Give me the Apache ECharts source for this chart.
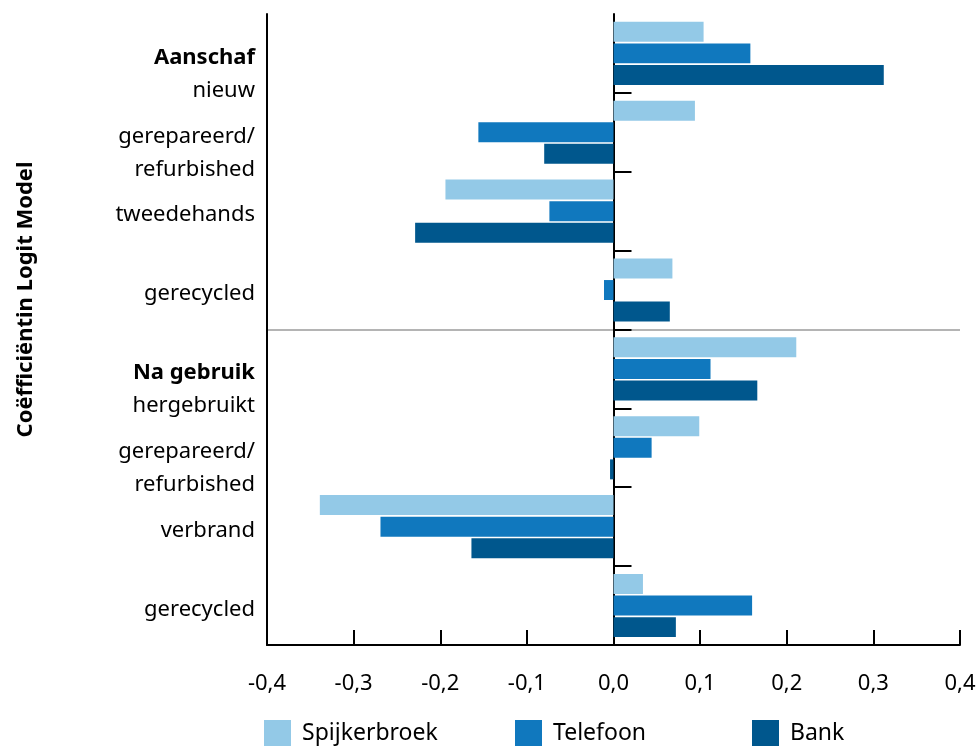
<!DOCTYPE html>
<html><head><meta charset="utf-8">
<script src="https://cdn.jsdelivr.net/npm/echarts@6/dist/echarts.min.js"></script>
<style>html,body{margin:0;padding:0;background:#fff}#c{width:980px;height:751px}</style>
</head><body><div id="c"></div>
<script>
var categoryKeys = ['a_nieuw','a_gerep','a_tweede','a_recyc','n_herg','n_gerep','n_verbr','n_recyc'];
var categoryLabels = [
  '\n{b|Aanschaf}\nnieuw',
  '\ngerepareerd/\nrefurbished',
  'tweedehands',
  'gerecycled',
  '\n{b|Na gebruik}\nhergebruikt',
  '\ngerepareerd/\nrefurbished',
  'verbrand',
  'gerecycled'
];
var seriesNames = ['Spijkerbroek','Telefoon','Bank'];
var spijkerbroek = [0.104, 0.094, -0.194, 0.068, 0.211, 0.099, -0.339, 0.034];
var telefoon     = [0.158, -0.156, -0.074, -0.011, 0.112, 0.044, -0.269, 0.160];
var bank         = [0.312, -0.080, -0.229, 0.065, 0.166, -0.004, -0.164, 0.072];
var xTicks = [-0.4,-0.3,-0.2,-0.1,0,0.1,0.2,0.3,0.4];
var yAxisName = 'Coëfficiëntin Logit Model';
var groupSeparatorBoundary = 4;
var colors = ['#93C9E7','#1078BE','#00578D'];

var FONT = 'Noto Sans';
var separatorColors = [];
for (var k = 0; k <= categoryKeys.length; k++) {
  separatorColors.push(k === groupSeparatorBoundary ? '#B4B4B4' : 'rgba(0,0,0,0)');
}
var chart = echarts.init(document.getElementById('c'));
function legendAt(i, left){
  return {
    data:[seriesNames[i]], left:left, top:720, icon:'rect', itemWidth:27, itemHeight:26, padding:0,
    textStyle:{fontSize:23, color:'#000', fontFamily:FONT, padding:[0,0,0,6]}
  };
}
chart.setOption({
  animation:false,
  textStyle:{fontFamily:FONT},
  color:colors,
  legend:[legendAt(0,264), legendAt(1,515), legendAt(2,752)],
  grid:{left:267, right:20, top:12, bottom:106, containLabel:false},
  xAxis:{
    type:'value', min:xTicks[0], max:xTicks[xTicks.length-1], interval:0.1,
    axisLine:{show:true, lineStyle:{color:'#000', width:2}},
    axisTick:{show:true, inside:true, length:15, lineStyle:{color:'#000', width:2}},
    splitLine:{show:false},
    axisLabel:{fontSize:22, color:'#000', margin:28,
      formatter:function(v){ return v.toFixed(1).replace('.',',').replace('-0,0','0,0'); }}
  },
  yAxis:[
    {
      type:'category', data:categoryKeys, inverse:true,
      axisLine:{show:true, onZero:true, lineStyle:{color:'#000', width:2}},
      axisTick:{show:true, inside:true, length:18, lineStyle:{color:'#000', width:2},
        interval:function(i){ return i!==0; }},
      axisLabel:{show:false},
      splitLine:{show:true, interval:0, lineStyle:{color:separatorColors, width:2}}
    },
    {
      type:'category', data:categoryKeys, inverse:true, position:'left',
      axisLine:{show:true, onZero:false, lineStyle:{color:'#000', width:2}},
      axisTick:{show:false},
      splitLine:{show:false},
      name:yAxisName, nameLocation:'middle', nameGap:230,
      nameTextStyle:{fontSize:22, fontWeight:'bold', color:'#000', fontFamily:FONT, padding:[0,0,0,60]},
      axisLabel:{
        interval:0, showMinLabel:true, showMaxLabel:true, hideOverlap:false,
        margin:12, fontSize:22, color:'#000', lineHeight:33, align:'right', verticalAlign:'middle',
        padding:[8,0,0,0],
        formatter:function(v, i){ return categoryLabels[i]; },
        rich:{b:{fontWeight:'bold', fontSize:22, lineHeight:33, color:'#000', fontFamily:FONT}}
      }
    }
  ],
  series:[
    {name:seriesNames[0], type:'bar', yAxisIndex:0, data:spijkerbroek, barGap:'8%', barCategoryGap:'20%'},
    {name:seriesNames[1], type:'bar', yAxisIndex:0, data:telefoon, barGap:'8%', barCategoryGap:'20%'},
    {name:seriesNames[2], type:'bar', yAxisIndex:0, data:bank, barGap:'8%', barCategoryGap:'20%'}
  ]
});
</script></body></html>
